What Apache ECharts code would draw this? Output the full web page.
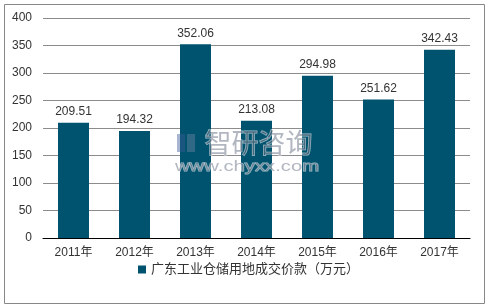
<!DOCTYPE html>
<html><head><meta charset="utf-8">
<script src="https://cdn.jsdelivr.net/npm/echarts@6/dist/echarts.min.js"></script>
<style>html,body{margin:0;padding:0;background:#fff}#c{width:488px;height:308px}</style>
</head><body><div id="c"></div>
<script>
const categories = ['2011年','2012年','2013年','2014年','2015年','2016年','2017年'];
const values = [209.51,194.32,352.06,213.08,294.98,251.62,342.43];
const seriesName = '广东工业仓储用地成交价款（万元）';
const yTicks = [0,50,100,150,200,250,300,350,400];

const chart = echarts.init(document.getElementById('c'), null, {renderer:'canvas'});
const font = '"Liberation Sans", Arial, "Noto Sans CJK SC", sans-serif';
chart.setOption({
  animation:false,
  textStyle:{fontFamily:font},
  graphic:[
    {type:'rect', shape:{x:4.5,y:4.5,width:480,height:299}, style:{fill:'none',stroke:'#878787',lineWidth:1}, z:-1},
    {type:'rect', shape:{x:177,y:134,width:8,height:18}, style:{fill:'rgba(60,90,150,0.45)'}, z:100},
    {type:'rect', shape:{x:187,y:134,width:8,height:18}, style:{fill:'rgba(120,140,170,0.4)'}, z:100},
    {type:'text', left:204, top:129, style:{text:'智研咨询', font:'27px "Noto Sans CJK SC"', fill:'rgba(100,110,130,0.5)', stroke:'rgba(255,255,255,0.6)', lineWidth:1}, z:100},
    {type:'text', x:175, y:159, scaleX:1.35, style:{text:'www.chyxx.com', font:'15px "Liberation Sans"', fill:'rgba(100,110,130,0.5)', stroke:'rgba(255,255,255,0.6)', lineWidth:1}, z:100}
  ],
  grid:{left:43,right:18,top:18,bottom:70,containLabel:false},
  legend:{data:[seriesName], top:258, left:133, itemWidth:8, itemHeight:8, icon:'rect', itemGap:5,
    textStyle:{fontSize:13,color:'#333',fontFamily:font}},
  xAxis:{type:'category', data:categories,
    axisLine:{lineStyle:{color:'#000',width:1}}, axisTick:{show:false},
    axisLabel:{color:'#333',fontSize:12,margin:9,fontFamily:font}},
  yAxis:{type:'value', min:yTicks[0], max:yTicks[yTicks.length-1], interval:50,
    axisLine:{show:false}, axisTick:{show:false},
    axisLabel:{color:'#333',fontSize:12,margin:11,fontFamily:font},
    splitLine:{lineStyle:{color:'#8c8c8c',width:1}}},
  series:[{name:seriesName, type:'bar', data:values, barWidth:31,
    itemStyle:{color:'#00536e'},
    label:{show:true, position:'top', color:'#333', fontSize:12, distance:5, fontFamily:font}}]
});
</script></body></html>
